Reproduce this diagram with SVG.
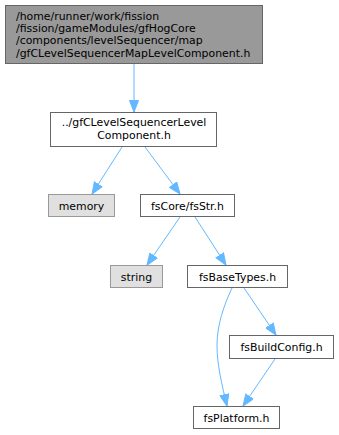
<svg xmlns="http://www.w3.org/2000/svg" width="339" height="435" viewBox="0 0 339 435">
<defs>
<style>
.n rect{fill:#ffffff;stroke:#666666;stroke-width:1}
.n.sys rect{fill:#e0e0e0;stroke:#999999}
.n.top rect{fill:#999999;stroke:#666666}
text{font-family:"DejaVu Sans","Liberation Sans",sans-serif;font-size:10.9px;fill:#000000}
.c{text-anchor:middle}
.e path{fill:none;stroke:#63b8ff;stroke-width:1}
</style>
<marker id="ah" viewBox="0 0 12 10" refX="12" refY="5" markerWidth="12" markerHeight="10" markerUnits="userSpaceOnUse" orient="auto">
<path d="M0.5,0.5 L12,5 L0.5,9.5 Z" fill="#63b8ff" stroke="#63b8ff" stroke-width="1"/>
</marker>
</defs>
<rect width="339" height="435" fill="#ffffff"/>
<g class="e">
<path d="M134,64 L134,112" marker-end="url(#ah)"/>
<path d="M122,147 L92,194" marker-end="url(#ah)"/>
<path d="M145,147 L180,194" marker-end="url(#ah)"/>
<path d="M180,217 L147,265" marker-end="url(#ah)"/>
<path d="M195,217 L226,265" marker-end="url(#ah)"/>
<path d="M232,288 C224,305 217,325 217,345 C217,365 222,385 227,406" marker-end="url(#ah)"/>
<path d="M244,288 L276,335" marker-end="url(#ah)"/>
<path d="M275,359 L243,406" marker-end="url(#ah)"/>
</g>
<g id="node1" class="n top"><rect x="5.5" y="5.5" width="257" height="58"/>
<text x="16" y="19.5">/home/runner/work/fission</text>
<text x="16" y="31.5">/fission/gameModules/gfHogCore</text>
<text x="16" y="44">/components/levelSequencer/map</text>
<text x="16" y="56.5">/gfCLevelSequencerMapLevelComponent.h</text></g>
<g id="node2" class="n"><rect x="50.5" y="112.5" width="166" height="34"/>
<text class="c" x="134" y="126">../gfCLevelSequencerLevel</text>
<text class="c" x="134" y="139">Component.h</text></g>
<g id="node3" class="n sys"><rect x="48.5" y="194.5" width="66" height="22"/>
<text class="c" x="81.5" y="209.5">memory</text></g>
<g id="node4" class="n"><rect x="140.5" y="194.5" width="94" height="22"/>
<text class="c" x="187.5" y="209.5">fsCore/fsStr.h</text></g>
<g id="node5" class="n sys"><rect x="110.5" y="265.5" width="52" height="22"/>
<text class="c" x="136.5" y="280.5">string</text></g>
<g id="node6" class="n"><rect x="187.5" y="265.5" width="100" height="22"/>
<text class="c" x="237.5" y="280.5">fsBaseTypes.h</text></g>
<g id="node7" class="n"><rect x="229.5" y="335.5" width="104" height="23"/>
<text class="c" x="281.5" y="351">fsBuildConfig.h</text></g>
<g id="node8" class="n"><rect x="193.5" y="406.5" width="86" height="22"/>
<text class="c" x="236.5" y="421.5">fsPlatform.h</text></g>
</svg>
